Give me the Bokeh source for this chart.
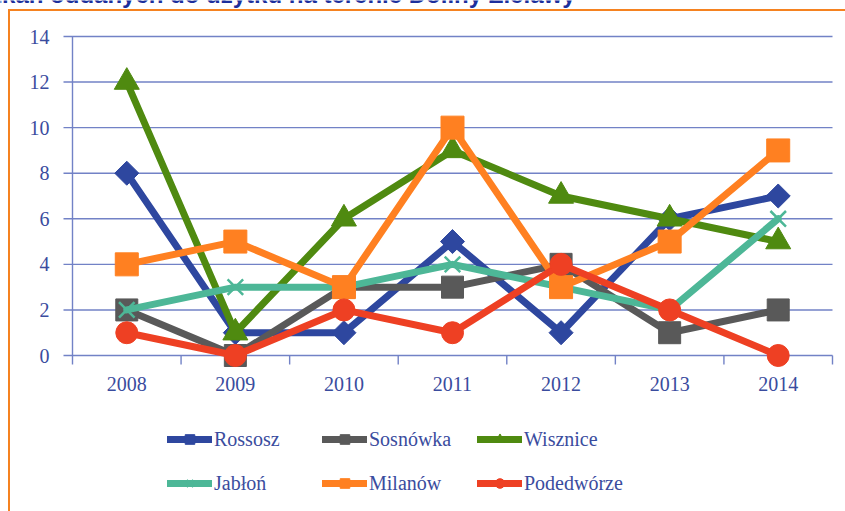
import numpy as np
from bokeh.plotting import figure
from bokeh.layouts import column, row
from bokeh.models import Range1d, FixedTicker, Legend, LegendItem, Label
from bokeh.embed import file_html
from bokeh.resources import INLINE

# ---- data ----
years = ["2008", "2009", "2010", "2011", "2012", "2013", "2014"]
rossosz = [8, 1, 1, 5, 1, 6, 7]
sosnowka = [2, 0, 3, 3, 4, 1, 2]
wisznice = [12, 1, 6, 9, 7, 6, 5]
jablon = [2, 3, 3, 4, 3, 2, 6]
milanow = [4, 5, 3, 10, 3, 5, 9]
podedworze = [1, 0, 2, 1, 4, 2, 0]
y_ticks = [0, 2, 4, 6, 8, 10, 12, 14]
series_names = ["Rossosz", "Sosnówka", "Wisznice", "Jabłoń", "Milanów", "Podedwórze"]
title_text = "mieszkań oddanych do użytku na terenie Doliny Zielawy"

# ---- layout (page pixels) ----
W, H = 845, 511
STRIP_H = 12                       # top strip with the cut-off heading
MAIN_TOP, MAIN_BOT = STRIP_H, 425  # main chart canvas
FL, FR, FT, FB = 60, 840, 20, 375  # frame edges
AX_L, AX_R = 72, 832               # category band
Y0_PX, YMAX_PX = 355, 36           # y=0 and y=14
YMAX = y_ticks[-1]

n = len(years)
px_x = (AX_R - AX_L) / n
x_start = -0.5 - (AX_L - FL) / px_x
x_end = n - 0.5 + (FR - AX_R) / px_x
px_y = (Y0_PX - YMAX_PX) / YMAX
y_start = -(FB - Y0_PX) / px_y
y_end = YMAX + (YMAX_PX - FT) / px_y

TXT = "#3a4c9e"
GRID = "#7282c6"
ORANGE = "#f58220"
FONT = "Liberation Serif"

colors = ["#2e479f", "#595959", "#4f8a10", "#4db797", "#ff8021", "#ee4023"]
markers = ["square", "square", "triangle", "x", "square", "circle"]
sizes = [17, 22, 25, 22, 23, 22]
angles = [np.pi / 4, 0, 0, 0, 0, 0]
values = [rossosz, sosnowka, wisznice, jablon, milanow, podedworze]
xs = list(range(n))


def bare(fig):
    fig.outline_line_color = None
    fig.grid.visible = False
    fig.background_fill_alpha = 0
    fig.border_fill_alpha = 0
    return fig


# ---- top strip: heading cut by the page edge ----
strip = bare(figure(width=W, height=STRIP_H, output_backend="svg", toolbar_location=None,
                    x_axis_location=None, y_axis_location=None,
                    min_border_left=0, min_border_right=0, min_border_top=0, min_border_bottom=0))
strip.add_layout(Label(x=575, y=STRIP_H + 6, x_units="screen", y_units="screen", text=title_text,
                       text_align="right", text_baseline="alphabetic", text_font="Liberation Sans",
                       text_font_style="bold", text_font_size="24px", text_color="#1c2f9c"))

# ---- main chart ----
p = bare(figure(width=W, height=MAIN_BOT - MAIN_TOP, x_range=Range1d(x_start, x_end),
                y_range=Range1d(y_start, y_end), output_backend="svg", toolbar_location=None,
                min_border_left=FL, min_border_right=W - FR,
                min_border_top=FT - MAIN_TOP, min_border_bottom=MAIN_BOT - FB))

gx0 = -0.5 - 9 / px_x
gx1 = n - 0.5
p.segment(x0=[gx0] * len(y_ticks), y0=y_ticks, x1=[gx1] * len(y_ticks), y1=y_ticks,
          line_color=GRID, line_width=1.4)
p.segment(x0=[-0.5], y0=[0], x1=[-0.5], y1=[YMAX], line_color=GRID, line_width=1.4)
bnds = list(np.arange(n + 1) - 0.5)
p.segment(x0=bnds, y0=[0] * len(bnds), x1=bnds, y1=[-9 / px_y] * len(bnds),
          line_color=GRID, line_width=1.4)


def add_series(fig, visible=True):
    out = []
    for vals, c, m, s, a in zip(values, colors, markers, sizes, angles):
        lr = fig.line(xs, vals, line_color=c, line_width=7, line_join="round", line_cap="round",
                      visible=visible)
        if m == "x":
            sr = fig.scatter(xs, vals, marker=m, size=s, line_color=c, line_width=2.5,
                             visible=visible)
        else:
            sr = fig.scatter(xs, vals, marker=m, size=s, angle=a, fill_color=c, line_color=c,
                             visible=visible)
        out.append((lr, sr))
    return out


add_series(p)

for ax in (p.xaxis[0], p.yaxis[0]):
    ax.axis_line_color = None
    ax.major_tick_line_color = None
    ax.minor_tick_line_color = None
    ax.major_tick_out = 0
    ax.major_tick_in = 0
    ax.minor_tick_out = 0
    ax.major_label_text_font = FONT
    ax.major_label_text_font_size = "20px"
    ax.major_label_text_color = TXT
p.yaxis.ticker = FixedTicker(ticks=y_ticks)
p.yaxis.major_label_standoff = 11
p.xaxis.ticker = FixedTicker(ticks=xs)
p.xaxis.major_label_overrides = {i: y for i, y in enumerate(years)}
p.xaxis.major_label_standoff = 1

# ---- legend panel ----
LEG_H = H - MAIN_BOT
lg = bare(figure(width=W, height=LEG_H, x_range=Range1d(x_start, x_end), y_range=Range1d(50, 60),
                 output_backend="svg", toolbar_location=None,
                 x_axis_location=None, y_axis_location=None,
                 min_border_left=0, min_border_right=0, min_border_top=0, min_border_bottom=0))
leg_rends = add_series(lg, visible=False)
GH = 24
legend = Legend(items=[LegendItem(label=nm, renderers=[lr, sr]) for nm, (lr, sr) in zip(series_names, leg_rends)],
                ncols=3, location=(167, LEG_H - (495 - MAIN_BOT)), orientation="horizontal",
                padding=0, margin=0, spacing=20, click_policy="none",
                border_line_color=None, background_fill_alpha=0,
                glyph_width=45, glyph_height=GH, label_height=GH, label_width=88, label_standoff=2,
                label_text_font=FONT, label_text_font_size="20px", label_text_color=TXT)
lg.add_layout(legend, "center")

page = column(row(strip), p, row(lg), spacing=0)
page.styles = {"box-shadow": f"inset 0 9px 0 0 white, inset 8px 0 0 0 white, "
                             f"inset 0 11px 0 0 {ORANGE}, inset 10px 0 0 0 {ORANGE}"}

open("out.html", "w").write(file_html(page, INLINE))
